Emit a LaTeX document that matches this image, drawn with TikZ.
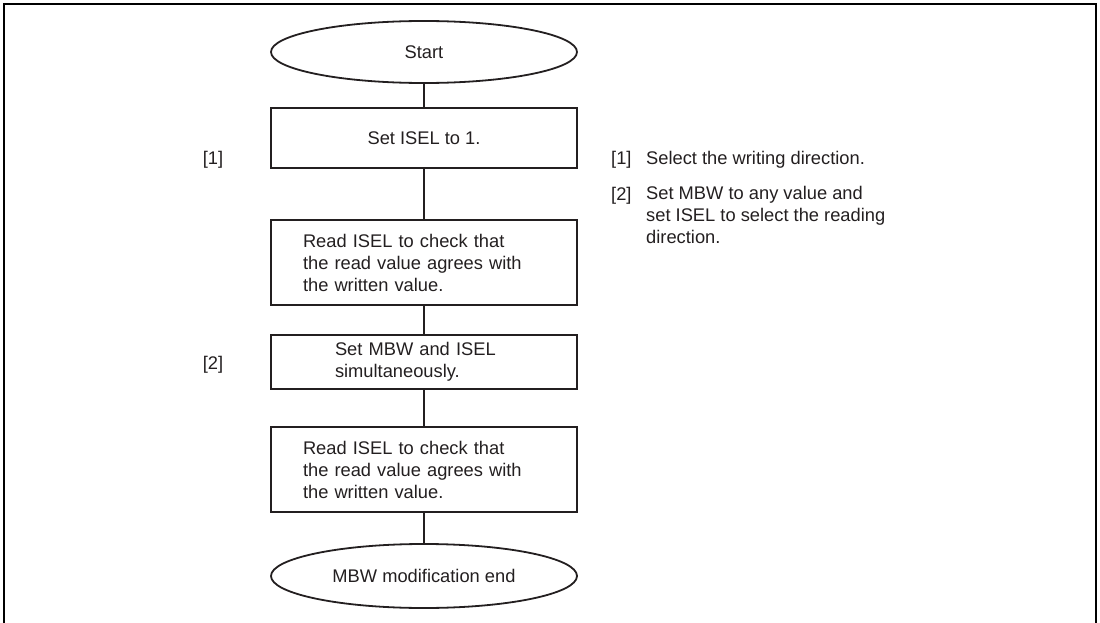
\documentclass[tikz,border=0pt]{standalone}
\usepackage{fontspec}
\setmainfont{Liberation Sans}
\usepackage{tikz}
\usetikzlibrary{shapes.geometric,positioning}
\definecolor{inkdark}{HTML}{231F20}
\tikzset{term/.style={ellipse,draw=inkdark,line width=1.8pt,minimum width=306pt,
  minimum height=62pt,inner sep=0pt,text=inkdark},
  procbox/.style={rectangle,draw=inkdark,line width=1.8pt,minimum width=306pt,
  inner sep=0pt,text=inkdark},
  flow/.style={line width=1.8pt,draw=inkdark},
  tag/.style={text=inkdark,inner sep=0pt}}

\begin{document}
\begin{tikzpicture}[x=1pt,y=-1pt,font=\fontsize{18.3}{22}\selectfont]
 \useasboundingbox (0,0) rectangle (1100,623);
 \draw[line width=2.2pt] (4,623)--(4,4)--(1096,4)--(1096,623);
 % flow chart
 \node[term] (start) at (424,52) {Start};
 \node[procbox,minimum height=60pt] (setisel) at (424,138) {Set ISEL to 1.};
 \node[procbox,minimum height=85pt,text width=242pt,align=left] (reada) at (424,262.5)
  {Read ISEL to check that\\the read value agrees with\\the written value.};
 \node[procbox,minimum height=54pt,text width=178pt,align=left] (setmbw) at (424,362)
  {Set MBW and ISEL\\simultaneously.};
 \node[procbox,minimum height=85pt,text width=242pt,align=left] (readb) at (424,469.5)
  {Read ISEL to check that\\the read value agrees with\\the written value.};
 \node[term,minimum height=64pt] (fin) at (424,576) {MBW modification end};
 \draw[flow] (start)--(setisel);
 \draw[flow] (setisel)--(reada);
 \draw[flow] (reada)--(setmbw);
 \draw[flow] (setmbw)--(readb);
 \draw[flow] (readb)--(fin);
 % step tags
 \node[tag] (taga) at (213,160) {[1]};
 \node[tag] (tagb) at (213,365) {[2]};
 % notes
 \node[tag,anchor=base west] (notea) at (611,164.5) {[1]};
 \node[tag,anchor=base west] (texta) at (646,164.5) {Select the writing direction.};
 \node[tag,anchor=base west] (noteb) at (611,200.5) {[2]};
 \node[tag,anchor=north west,align=left] (textb) at (646,186)
  {Set MBW to any value and\\set ISEL to select the reading\\direction.};
\end{tikzpicture}
\end{document}
